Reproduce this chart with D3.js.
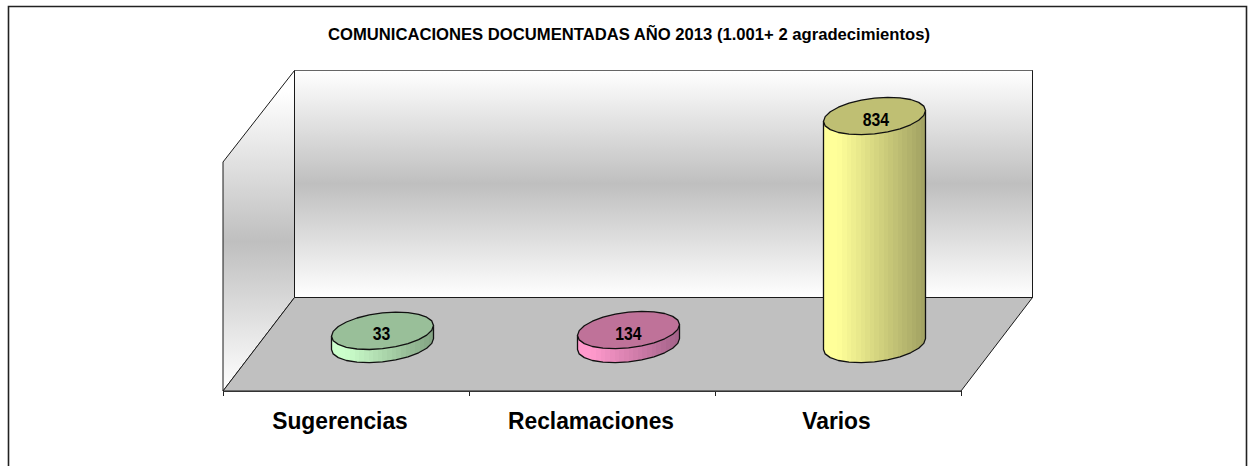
<!DOCTYPE html>
<html><head><meta charset="utf-8">
<style>html,body{margin:0;padding:0;background:#fff}svg{display:block}</style>
<script src="https://cdn.jsdelivr.net/npm/d3@7/dist/d3.min.js"></script>
</head><body><svg id="c" width="1248" height="466"></svg>
<script>
const chartTitle = "COMUNICACIONES DOCUMENTADAS AÑO 2013 (1.001+ 2 agradecimientos)";
const categories = ["Sugerencias", "Reclamaciones", "Varios"];
const values = [33, 134, 834];
const sideLight = ["#ccffcc", "#ff99cc", "#ffff99"];
const sideDark = ["#84a584", "#a5638a", "#a3a363"];
const topColors = ["#99bf99", "#bf7299", "#bfbf73"];

const svg = d3.select("#c");
const defs = svg.append("defs");
const W = 1248, H = 466;
const ff = "'Liberation Sans', Arial, sans-serif";

svg.append("path").attr("d", `M8.5,${H}V6.5H1246.5V${H}`).attr("fill", "#fff").attr("stroke", "#222").attr("stroke-width", 1.6);

const x = d3.scaleBand().domain(categories).range([223, 961]);
// The source axis starts above the smallest value, so the two short bars sit almost level.
const y = d3.scaleLinear().domain([33, 134, 834]).range([330.8, 330, 116]);
const baseY = 344;
const dx = 72, frontY = 391, backY = 297.5, topY = 70.5;

function grad(id, y1, y2) {
  const g = defs.append("linearGradient").attr("id", id).attr("gradientUnits", "userSpaceOnUse")
    .attr("x1", 0).attr("x2", 0).attr("y1", y1).attr("y2", y2);
  [[0, "#fff"], [.5, "#bfbfbf"], [1, "#fff"]].forEach(s => g.append("stop").attr("offset", s[0]).attr("stop-color", s[1]));
}
grad("wallG", topY, backY);
grad("sideG", 92, 391);

const x0 = x.range()[0], x1 = x.range()[1];
const line = "#1a1a1a";
svg.append("path").attr("d", `M${x0},${frontY}L${x0},${frontY - 229}L${x0 + dx - 0.5},${topY}V${backY}Z`)
  .attr("fill", "url(#sideG)").attr("stroke", line).attr("stroke-width", 1);
svg.append("rect").attr("x", x0 + dx - 0.5).attr("y", topY).attr("width", x1 - x0).attr("height", backY - topY)
  .attr("fill", "url(#wallG)").attr("stroke", line).attr("stroke-width", 1);
svg.append("line").attr("x1", x0 + dx - .5).attr("x2", x1 + dx - .5).attr("y1", topY).attr("y2", topY).attr("stroke", "#666");
svg.append("path").attr("d", `M${x0},${frontY}L${x0 + dx - .5},${backY}H${x1 + dx - .5}L${x1},${frontY}Z`)
  .attr("fill", "#c0c0c0").attr("stroke", line).attr("stroke-width", 1);

const tickXs = d3.range(categories.length + 1).map(i => x0 + i * x.step());
svg.append("g").selectAll("line").data(tickXs).join("line")
  .attr("x1", d => d + .5).attr("x2", d => d + .5).attr("y1", frontY).attr("y2", frontY + 5).attr("stroke", "#222");
svg.append("line").attr("x1", x0).attr("x2", x1).attr("y1", frontY + .5).attr("y2", frontY + .5).attr("stroke", "#333").attr("stroke-width", 1.2);

const rx = 51, ry = 18.7, cosPhi = 0.29, phi = Math.acos(cosPhi), seg = 24;
const pt = (cx, cy, t) => [cx + rx * Math.cos(t), cy - ry * Math.cos(t - phi)];
const pathOf = pts => "M" + pts.map(p => p[0].toFixed(1) + "," + p[1].toFixed(1)).join("L");
const barDepthShift = 36.5;   // bars stand in the middle of the floor depth
const labelShift = [-6, -1, -1.5];
const valueShift = [-1, 0, 1.5];

categories.forEach((c, i) => {
  const mid = x(c) + x.bandwidth() / 2;
  const cx = mid + barDepthShift;
  const cyTop = y(values[i]);
  const id = "bar" + i;
  const g = defs.append("linearGradient").attr("id", id).attr("gradientUnits", "userSpaceOnUse")
    .attr("x1", cx - rx).attr("x2", cx + rx).attr("y1", 0).attr("y2", 0);
  const col = d3.scaleLinear().domain([0, .12, 1]).range([sideLight[i], sideLight[i], sideDark[i]]);
  const bands = 22;
  d3.range(bands).forEach(k => {
    const colr = col(k / (bands - 1));
    g.append("stop").attr("offset", k / bands).attr("stop-color", colr);
    g.append("stop").attr("offset", (k + 1) / bands).attr("stop-color", colr);
  });
  const lowerHalf = d3.range(seg / 2 + 1).map(k => pt(cx, baseY, 2 * Math.PI - k / (seg / 2) * Math.PI));
  const sidePts = [pt(cx, cyTop, 0), ...lowerHalf, pt(cx, cyTop, Math.PI)];
  svg.append("path").attr("d", pathOf(sidePts) + "Z").attr("fill", `url(#${id})`)
    .attr("stroke", "#111").attr("stroke-width", 1.3).attr("stroke-linejoin", "round");
  const ring = d3.range(seg).map(k => pt(cx, cyTop, k / seg * 2 * Math.PI));
  svg.append("path").attr("d", pathOf(ring) + "Z").attr("fill", topColors[i])
    .attr("stroke", "#111").attr("stroke-width", 1.3).attr("stroke-linejoin", "round");
  const v = svg.append("text").attr("x", cx + valueShift[i]).attr("y", cyTop + 9.5).attr("text-anchor", "middle")
    .attr("font-family", ff).attr("font-weight", "bold").attr("font-size", 17.5).attr("fill", "#000").text(values[i]);
  v.attr("textLength", v.node().getComputedTextLength() * 0.9).attr("lengthAdjust", "spacingAndGlyphs");
  const l = svg.append("text").attr("x", mid + labelShift[i]).attr("y", 429).attr("text-anchor", "middle")
    .attr("font-family", ff).attr("font-weight", "bold").attr("font-size", 24).attr("fill", "#000").text(c);
  l.attr("textLength", l.node().getComputedTextLength() * 0.95).attr("lengthAdjust", "spacingAndGlyphs");
});

svg.append("text").attr("x", 629).attr("y", 40).attr("text-anchor", "middle")
  .attr("font-family", ff).attr("font-weight", "bold").attr("font-size", 17)
  .attr("textLength", 602).attr("lengthAdjust", "spacingAndGlyphs").text(chartTitle);
</script></body></html>
